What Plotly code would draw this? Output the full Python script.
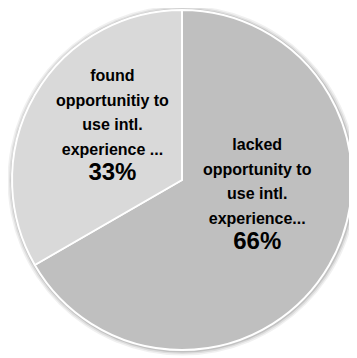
import plotly.graph_objects as go

labels = ["lacked opportunity to use intl. experience...", "found opportunitiy to use intl. experience ..."]
label_lines = [["lacked", "opportunity to", "use intl.", "experience..."],
               ["found", "opportunitiy to", "use intl.", "experience ..."]]
values = [66, 33]
pct_text = ["66%", "33%"]
colors = ["#bfbfbf", "#d9d9d9"]

W, H = 349, 350
L, R, T, B = 4, 5, 0, 6
pw, ph = W - L - R, H - T - B
rad = min(pw, ph) / 2


def label_html(lines, pct):
    body = "<br>".join(f"<span style='font-size:16px'><b>{l}</b></span>" for l in lines)
    return body + f"<br><span style='font-size:24px'><b>{pct}</b></span>"


fig = go.Figure(go.Pie(
    labels=labels,
    values=values,
    textinfo="none",
    sort=False,
    direction="clockwise",
    rotation=0,
    marker=dict(colors=colors, line=dict(color="white", width=2)),
    showlegend=False,
    hoverinfo="label+percent",
))

# soft shadow rings around the pie
for ext, op in [(5, 0.06), (3.5, 0.08), (2, 0.12)]:
    rx = (rad + ext) / pw
    ry = (rad + ext) / ph
    fig.add_shape(type="circle", xref="paper", yref="paper",
                  x0=0.5 - rx + 0.5 / pw, x1=0.5 + rx + 0.5 / pw,
                  y0=0.5 - ry - 0.5 / ph, y1=0.5 + ry - 0.5 / ph,
                  fillcolor=f"rgba(0,0,0,{op})", line=dict(width=0), layer="below")

# label placement (screen px, page has 8px body margin)
label_pos = [(257, 195), (112, 126)]
for (sx, sy), lines, pct in zip(label_pos, label_lines, pct_text):
    fig.add_annotation(
        x=(sx - 8 - L) / pw, y=1 - (sy - 8 - T) / ph,
        xref="paper", yref="paper", xanchor="center", yanchor="middle",
        text=label_html(lines, pct), showarrow=False, align="center",
        font=dict(family="Liberation Sans, Arial, sans-serif", size=19, color="#000000"),
    )

fig.update_layout(
    width=W, height=H,
    margin=dict(l=L, r=R, t=T, b=B),
    paper_bgcolor="white",
    plot_bgcolor="white",
)

fig.write_html("out.html")
